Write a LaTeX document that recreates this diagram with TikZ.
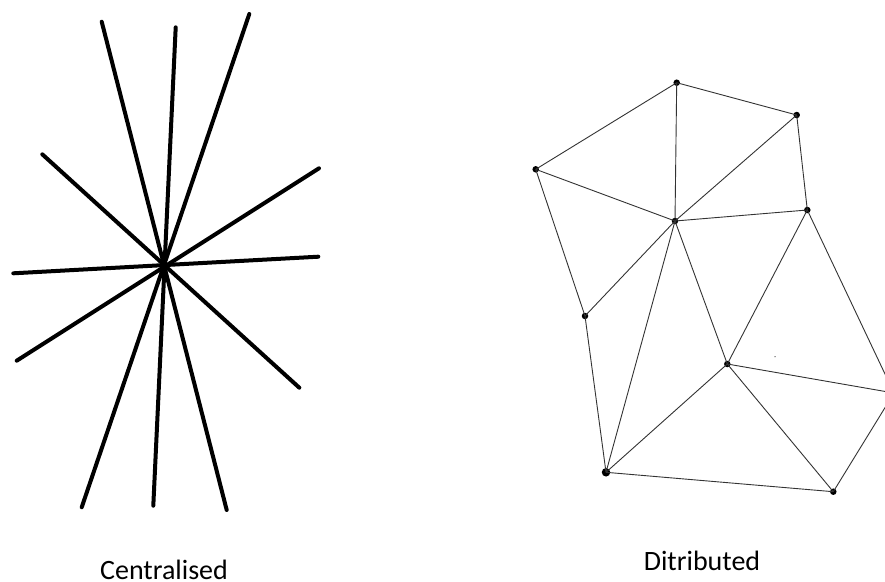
\documentclass[tikz,border=0pt]{standalone}
\usepackage{fontspec}
\setmainfont{Carlito}
\begin{document}
\begin{tikzpicture}[x=1pt,y=-1pt,
  spoke/.style={line width=4pt,line cap=round,black},
  edge/.style={line width=0.9pt,black!80},
  vtx/.style={circle,fill=black,inner sep=0pt,minimum size=6.5pt},
  bigvtx/.style={circle,fill=black,inner sep=0pt,minimum size=8.5pt},
  lbl/.style={font=\fontsize{28}{32}\selectfont,anchor=base,inner sep=0pt}]
\useasboundingbox (0,0) rectangle (885,581);
\clip (0,0) rectangle (885,581);
% ---- centralised star ----
\coordinate (c) at (163.5,265);
\coordinate (s1a) at (101.7,21.7);  \coordinate (s1b) at (226.7,510);
\coordinate (s2a) at (175.7,27.3);  \coordinate (s2b) at (153.3,505.7);
\coordinate (s3a) at (249.3,14);    \coordinate (s3b) at (81.7,507.3);
\coordinate (s4a) at (42.3,154.3);  \coordinate (s4b) at (299.3,387.7);
\coordinate (s5a) at (319,168.3);   \coordinate (s5b) at (16.7,360.7);
\coordinate (s6a) at (13.3,273.3);  \coordinate (s6b) at (318.3,256.7);
\foreach \i in {1,...,6}{\draw[spoke] (s\i a) -- (s\i b);}
% ---- distributed mesh ----
\node[vtx] (A) at (676.7,82.7) {};
\node[vtx] (B) at (796.7,115) {};
\node[vtx] (C) at (535.7,169.3) {};
\node[vtx] (D) at (675,221) {};
\node[vtx] (E) at (807.3,210) {};
\node[vtx] (F) at (585,316) {};
\node[vtx] (G) at (727.3,364) {};
\node[vtx] (H) at (894,393) {};
\node[bigvtx] (I) at (606,472.3) {};
\node[vtx] (J) at (833.3,491.7) {};
\foreach \u/\v in {A/B,A/C,A/D,B/D,B/E,C/D,C/F,D/E,D/F,D/I,D/G,E/G,E/H,G/H,H/J,G/I,G/J,F/I,I/J}
  {\draw[edge] (\u.center) -- (\v.center);}
\fill[black!70] (775,356.7) circle (0.7pt);
% ---- labels ----
\node[lbl] (lc) at (164,579.5) {Centralised};
\node[lbl] (ld) at (702,570) {Ditributed};
\end{tikzpicture}
\end{document}
